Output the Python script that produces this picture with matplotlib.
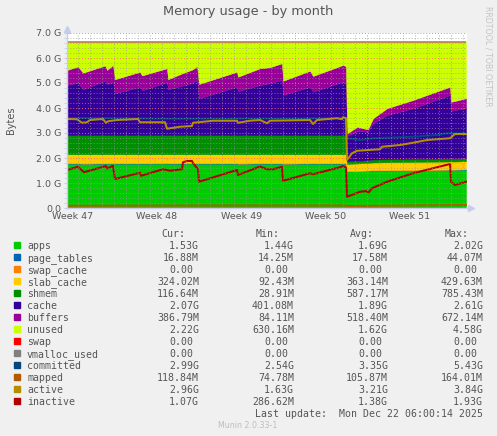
import numpy as np
import matplotlib
matplotlib.use("Agg")
import matplotlib.pyplot as plt
from matplotlib.patches import Rectangle

W, H = 497, 436

# time in days from the left edge of the graph
t = [0.00, 0.91, 1.33, 3.16, 3.33, 3.82, 3.99, 6.07, 6.23, 8.31,
     8.40, 9.64, 9.98, 10.47, 10.81, 10.97, 14.13, 14.21, 16.04, 16.87,
     17.87, 17.96, 20.20, 20.45, 22.94, 23.19, 23.28, 24.11, 24.94, 25.02,
     25.44, 26.60, 28.76, 31.84, 31.92, 32.25, 33.17]

# stacked values, GB
apps = [1.77, 1.77, 1.76, 1.77, 1.77, 1.78, 1.77, 1.77, 1.77, 1.78,
        1.77, 1.77, 1.78, 1.78, 1.77, 1.77, 1.77, 1.76, 1.77, 1.77,
        1.77, 1.76, 1.77, 1.77, 1.77, 1.77, 1.46, 1.47, 1.48, 1.48,
        1.50, 1.50, 1.51, 1.52, 1.52, 1.52, 1.53]
page_tables = [0.02, 0.02, 0.02, 0.02, 0.02, 0.02, 0.02, 0.02, 0.02, 0.02,
               0.02, 0.02, 0.02, 0.02, 0.02, 0.02, 0.02, 0.02, 0.02, 0.02,
               0.02, 0.02, 0.02, 0.02, 0.02, 0.02, 0.02, 0.02, 0.02, 0.02,
               0.02, 0.02, 0.02, 0.02, 0.02, 0.02, 0.02]
swap_cache = [0.0] * len(t)
slab_cache = [0.36, 0.36, 0.37, 0.36, 0.36, 0.35, 0.36, 0.36, 0.36, 0.35,
              0.36, 0.36, 0.35, 0.35, 0.36, 0.36, 0.36, 0.37, 0.36, 0.36,
              0.36, 0.37, 0.36, 0.36, 0.36, 0.36, 0.28, 0.29, 0.30, 0.30,
              0.30, 0.31, 0.31, 0.32, 0.32, 0.32, 0.32]
shmem = [0.76, 0.76, 0.76, 0.76, 0.76, 0.76, 0.76, 0.76, 0.76, 0.76,
         0.76, 0.76, 0.76, 0.76, 0.76, 0.76, 0.76, 0.76, 0.76, 0.76,
         0.76, 0.76, 0.76, 0.76, 0.76, 0.76, 0.11, 0.11, 0.11, 0.11,
         0.12, 0.12, 0.12, 0.12, 0.12, 0.12, 0.12]
cache = [2.01, 2.10, 1.84, 2.18, 2.04, 2.14, 1.68, 1.94, 1.79, 2.13,
         1.84, 1.99, 2.03, 2.11, 2.21, 1.48, 1.94, 1.76, 2.01, 2.08,
         2.21, 1.61, 1.94, 1.74, 2.14, 2.09, 1.01, 1.19, 1.14, 1.14,
         1.45, 1.77, 2.03, 2.54, 1.90, 1.94, 2.00]
buffers = [0.60, 0.65, 0.66, 0.61, 0.57, 0.67, 0.56, 0.60, 0.60, 0.55,
           0.40, 0.50, 0.52, 0.53, 0.56, 0.57, 0.60, 0.58, 0.67, 0.64,
           0.67, 0.57, 0.64, 0.63, 0.67, 0.67, 0.10, 0.17, 0.10, 0.10,
           0.20, 0.27, 0.33, 0.33, 0.37, 0.36, 0.40]
unused = [1.12, 0.98, 1.23, 0.94, 1.12, 0.92, 1.49, 1.19, 1.34, 1.05,
          1.49, 1.24, 1.18, 1.09, 0.96, 1.68, 1.19, 1.39, 1.05, 1.01,
          0.85, 1.55, 1.15, 1.36, 0.92, 0.97, 3.66, 3.39, 3.49, 3.49,
          3.05, 2.65, 2.32, 1.79, 2.39, 2.36, 2.25]
swap = [0.0] * len(t)
vmalloc_used = [0.0] * len(t)

# lines
committed_t = [0.00, 2.74, 8.56, 15.21, 19.37, 23.11, 23.28, 24.36, 25.44, 28.76, 30.76, 31.59, 33.17]
committed = [3.60, 3.60, 3.57, 3.58, 3.58, 3.60, 2.79, 2.72, 2.79, 2.85, 2.92, 2.99, 2.99]
mapped_t = [0.00, 11.14, 23.19, 23.28, 33.17]
mapped = [0.09, 0.10, 0.10, 0.08, 0.12]
active_t = [0.00, 0.83, 1.25, 1.66, 1.91, 2.99, 3.24, 3.41, 4.16, 5.90,
            6.07, 8.15, 8.31, 9.39, 10.39, 10.47, 11.31, 12.14, 14.13, 14.21,
            15.21, 16.04, 16.63, 16.87, 20.20, 20.45, 20.78, 22.44, 22.86, 22.94,
            23.19, 23.28, 23.69, 24.11, 26.02, 26.18, 27.68, 28.76, 29.93, 31.84,
            32.25, 33.17]
active = [3.56, 3.55, 3.41, 3.43, 3.52, 3.56, 3.41, 3.47, 3.52, 3.56,
          3.43, 3.43, 3.17, 3.25, 3.28, 3.41, 3.45, 3.49, 3.49, 3.41,
          3.49, 3.52, 3.39, 3.49, 3.52, 3.36, 3.52, 3.59, 3.55, 3.63,
          3.60, 1.92, 2.19, 2.29, 2.35, 2.45, 2.52, 2.61, 2.72, 2.79,
          2.96, 2.96]
inactive_t = [0.00, 0.91, 1.41, 3.24, 3.33, 3.82, 3.99, 6.07, 6.15, 7.98,
              8.31, 8.56, 8.98, 9.56, 9.64, 9.98, 10.39, 10.47, 10.89, 10.97,
              14.13, 14.21, 16.04, 16.63, 17.12, 17.87, 17.96, 20.20, 20.45, 22.69,
              22.94, 23.19, 23.28, 24.36, 24.94, 25.02, 25.35, 26.60, 28.76, 30.42,
              31.84, 31.92, 32.25, 33.17]
inactive = [1.52, 1.65, 1.43, 1.68, 1.58, 1.69, 1.16, 1.41, 1.29, 1.55,
            1.52, 1.49, 1.52, 1.55, 1.83, 1.88, 1.88, 1.80, 1.55, 1.05,
            1.52, 1.32, 1.66, 1.55, 1.55, 1.65, 1.09, 1.39, 1.35, 1.63,
            1.68, 1.62, 0.45, 0.65, 0.68, 0.59, 0.79, 1.05, 1.39, 1.59,
            1.76, 1.05, 0.92, 1.05]

week_pos = [0.47, 7.47, 14.47, 21.47, 28.47]
week_labels = ["Week 47", "Week 48", "Week 49", "Week 50", "Week 51"]
ytick_labels = ["0.0", "1.0 G", "2.0 G", "3.0 G", "4.0 G", "5.0 G", "6.0 G", "7.0 G"]

names = ["apps", "page_tables", "swap_cache", "slab_cache", "shmem", "cache", "buffers",
         "unused", "swap", "vmalloc_used", "committed", "mapped", "active", "inactive"]
colors = ["#00CC00", "#0066B3", "#FF8000", "#FFCC00", "#008F00", "#330099", "#990099",
          "#CCFF00", "#FF0000", "#808080", "#00487D", "#B35A00", "#B38F00", "#B30000"]
cur = ["1.53G", "16.88M", "0.00", "324.02M", "116.64M", "2.07G", "386.79M",
       "2.22G", "0.00", "0.00", "2.99G", "118.84M", "2.96G", "1.07G"]
mins = ["1.44G", "14.25M", "0.00", "92.43M", "28.91M", "401.08M", "84.11M",
        "630.16M", "0.00", "0.00", "2.54G", "74.78M", "1.63G", "286.62M"]
avgs = ["1.69G", "17.58M", "0.00", "363.14M", "587.17M", "1.89G", "518.40M",
        "1.62G", "0.00", "0.00", "3.35G", "105.87M", "3.21G", "1.38G"]
maxs = ["2.02G", "44.07M", "0.00", "429.63M", "785.43M", "2.61G", "672.14M",
        "4.58G", "0.00", "0.00", "5.43G", "164.01M", "3.84G", "1.93G"]

fg = "#555555"
axis_col = "#C6CDEB"

fig = plt.figure(figsize=(W / 100, H / 100), dpi=100, facecolor="#F0F0F0")
ax = fig.add_axes([67 / W, 1 - 208 / H, 400 / W, 175 / H])
ax.set_facecolor("white")

stack = [apps, page_tables, swap_cache, slab_cache, shmem, cache, buffers, unused, swap, vmalloc_used]
polys = ax.stackplot(t, *stack, colors=colors[:10], linewidth=0.3, zorder=2)
for p, c in zip(polys, colors[:10]):
    p.set_edgecolor(c)

ax.plot(committed_t, committed, color=colors[10], lw=1.45, zorder=3)
ax.plot(mapped_t, mapped, color=colors[11], lw=1.45, zorder=3)
ax.plot(active_t, active, color=colors[12], lw=1.45, zorder=3)
ax.plot(inactive_t, inactive, color=colors[13], lw=1.45, zorder=3)

ax.set_xlim(0, 33.25)
ax.set_ylim(0, 7.0)

# grid, drawn over the areas like rrdtool does
dots = (0, (1, 2))
for d in np.arange(0.92, 33.25, 1.0):
    major = abs((d - 3.92) % 7) < 0.01
    ax.axvline(d, color="#FF7070" if major else "#999999", lw=0.7, ls=dots,
               alpha=0.9 if major else 0.7, zorder=5)
for v in np.arange(0.2, 7.01, 0.2):
    major = abs(v - round(v)) < 0.01
    ax.axhline(v, color="#FF7070" if major else "#999999", lw=0.7, ls=dots,
               alpha=0.9 if major else 0.7, zorder=5)

for s in ax.spines.values():
    s.set_visible(False)
ax.plot([0, 33.45], [0, 0], color=axis_col, lw=1.0, clip_on=False, zorder=6)
ax.plot([0, 0], [0, 7.1], color=axis_col, lw=1.0, clip_on=False, zorder=6)
ax.plot([33.6], [0], marker=">", color=axis_col, ms=4, clip_on=False, zorder=6)
ax.plot([0], [7.15], marker="^", color=axis_col, ms=4, clip_on=False, zorder=6)

ax.set_yticks(range(8))
ax.set_yticklabels(ytick_labels)
ax.set_yticks(np.arange(0, 7.01, 0.2), minor=True)
ax.set_xticks(week_pos)
ax.set_xticklabels(week_labels)
ax.tick_params(axis="y", which="major", direction="inout", length=4, color=axis_col,
               labelsize=6.8, labelcolor=fg, pad=2)
ax.tick_params(axis="y", which="minor", direction="out", length=2, color=axis_col)
ax.tick_params(axis="x", length=0, labelsize=6.8, labelcolor=fg, pad=3)

fig.text(248 / W, 1 - 12 / H, "Memory usage - by month", ha="center", va="center",
         fontsize=9.3, color=fg)
fig.text(11 / W, 1 - 120 / H, "Bytes", rotation=90, ha="center", va="center",
         fontsize=7, color=fg)
fig.text(488 / W, 1 - 56 / H, "RRDTOOL / TOBI OETIKER", rotation=270, ha="center",
         va="center", fontsize=5.7, color="#C4C4C4")

# legend block
mono = "DejaVu Sans Mono"
fs = 7.1
cols = [199, 294, 388, 483]
for x, head in zip(cols, ["Cur:", "Min:", "Avg:", "Max:"]):
    fig.text((x - 14) / W, 1 - 236.7 / H, head, ha="right", va="baseline",
             family=mono, fontsize=fs, color=fg)

for i, name in enumerate(names):
    yb = 249 + 12 * i
    fig.add_artist(Rectangle((14 / W, 1 - (yb - 1) / H), 6 / W, 6 / H,
                             transform=fig.transFigure, color=colors[i]))
    fig.text(27 / W, 1 - yb / H, name, ha="left", va="baseline",
             family=mono, fontsize=fs, color=fg)
    for x, vals in zip(cols, [cur, mins, avgs, maxs]):
        s = vals[i]
        xe = x if s[-1] in "GMk" else x - 6
        fig.text(xe / W, 1 - yb / H, s, ha="right", va="baseline",
                 family=mono, fontsize=fs, color=fg)

fig.text(483 / W, 1 - 417.3 / H, "Last update:  Mon Dec 22 06:00:14 2025", ha="right",
         va="baseline", family=mono, fontsize=fs, color=fg)
fig.text(248 / W, 1 - 428.3 / H, "Munin 2.0.33-1", ha="center", va="baseline",
         fontsize=5.7, color="#BEBEBE")

fig.savefig("out.png", dpi=100, facecolor=fig.get_facecolor())
